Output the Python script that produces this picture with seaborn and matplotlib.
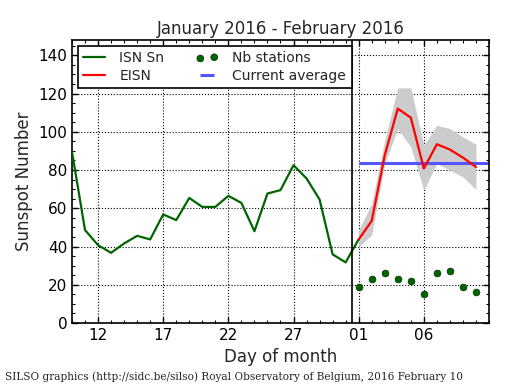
import matplotlib
matplotlib.use('Agg')
import matplotlib.pyplot as plt
import matplotlib.dates as mdates
import numpy as np
import pandas as pd
import seaborn as sns

# --------------------------------------------------------------------------- #
# Data

isn_dates = pd.date_range('2016-01-10', '2016-02-01', freq='D')
isn_values = [89.5, 48.6, 40.7, 36.7, 41.6, 45.6, 43.7, 56.8, 53.8, 65.4,
              60.7, 60.7, 66.5, 62.8, 48.0, 67.7, 69.5, 82.5, 75.6, 64.6,
              35.9, 31.7, 43.8]

eisn_dates = pd.date_range('2016-02-01', '2016-02-10', freq='D')
eisn_values = [43.7, 53.4, 87.7, 112.1, 107.4, 80.8, 93.5, 90.7, 86.5, 81.6]
eisn_upper = [48.6, 62.5, 95.6, 123.0, 123.0, 93.0, 103.4, 101.7, 97.3, 93.5]
eisn_lower = [39.8, 46.0, 83.4, 101.7, 92.0, 69.5, 83.4, 79.9, 76.4, 69.8]
nb_stations = [19, 23, 26, 23, 22, 15, 26, 27, 19, 16]

tick_dates = pd.to_datetime(['2016-01-12', '2016-01-17', '2016-01-22',
                             '2016-01-27', '2016-02-01', '2016-02-06'])
x_start = pd.Timestamp('2016-01-10')
x_end = pd.Timestamp('2016-02-11')
month_change = pd.Timestamp('2016-01-31 12:00')

title = 'January 2016 - February 2016'
footer = ('SILSO graphics (http://sidc.be/silso) Royal Observatory of '
          'Belgium, 2016 February 10')

current_average = float(np.mean(eisn_values))

# --------------------------------------------------------------------------- #
# Style

sns.set_style('ticks')
plt.rcParams['font.family'] = ['DejaVu Sans']
plt.rcParams.update({
    'xtick.direction': 'in',
    'ytick.direction': 'in',
    'xtick.top': True,
    'ytick.right': True,
    'xtick.major.size': 4,
    'ytick.major.size': 4,
    'xtick.minor.size': 2,
    'ytick.minor.size': 2,
    'axes.linewidth': 1.2,
    'axes.edgecolor': 'black',
    'xtick.color': 'black',
    'ytick.color': 'black',
})

fig = plt.figure(figsize=(5.15, 3.9), dpi=100)
ax = fig.add_axes([0.1398, 0.1718, 0.8097, 0.7256])

ax.fill_between(eisn_dates, eisn_lower, eisn_upper,
                color='#cccccc', linewidth=0, zorder=1)
sns.lineplot(x=isn_dates, y=isn_values, color='#006400', linewidth=1.6,
             ax=ax, label='ISN Sn', zorder=3)
sns.lineplot(x=eisn_dates, y=eisn_values, color='red', linewidth=1.6,
             ax=ax, label='EISN', zorder=4)
sns.scatterplot(x=eisn_dates, y=nb_stations, color='#006400',
                edgecolor='#003300', linewidth=0.5, s=24, ax=ax,
                label='Nb stations', zorder=5)
ax.hlines(current_average, eisn_dates[0], x_end, color='#5555ff',
          linewidth=2.2, zorder=2, label='Current average')
ax.axvline(month_change, color='black', linewidth=1.2, zorder=6)

ax.set_xlim(x_start, x_end)
ax.set_ylim(0, 148)
ax.set_xticks(tick_dates)
ax.xaxis.set_major_formatter(mdates.DateFormatter('%d'))
ax.xaxis.set_minor_locator(mdates.DayLocator())
ax.set_yticks(np.arange(0, 141, 20))
ax.yaxis.set_minor_locator(matplotlib.ticker.MultipleLocator(5))
ax.tick_params(labelsize=11, width=1.0)
ax.tick_params(which='minor', width=0.8)
ax.grid(True, which='major', color='black', linestyle=':', linewidth=0.8)

ax.set_title(title, fontsize=12, pad=4)
ax.set_xlabel('Day of month', fontsize=12, labelpad=4)
ax.set_ylabel('Sunspot Number', fontsize=12, labelpad=4)

handles, labels = ax.get_legend_handles_labels()
order = ['ISN Sn', 'EISN', 'Nb stations', 'Current average']
h = [handles[labels.index(o)] for o in order]
leg = ax.legend(h, order, loc='upper left', ncol=2, scatterpoints=2,
                fontsize=10, frameon=True, fancybox=False, framealpha=1,
                edgecolor='black', borderaxespad=0.4, handlelength=1.6,
                columnspacing=2.3, handletextpad=1.0, borderpad=0.4,
                labelspacing=0.25)
leg.get_frame().set_linewidth(1.2)
leg.set_zorder(10)

fig.text(0.01, 0.035, footer, family='DejaVu Serif', fontsize=7.6,
         va='center', ha='left')

fig.savefig('out.png', dpi=100)
